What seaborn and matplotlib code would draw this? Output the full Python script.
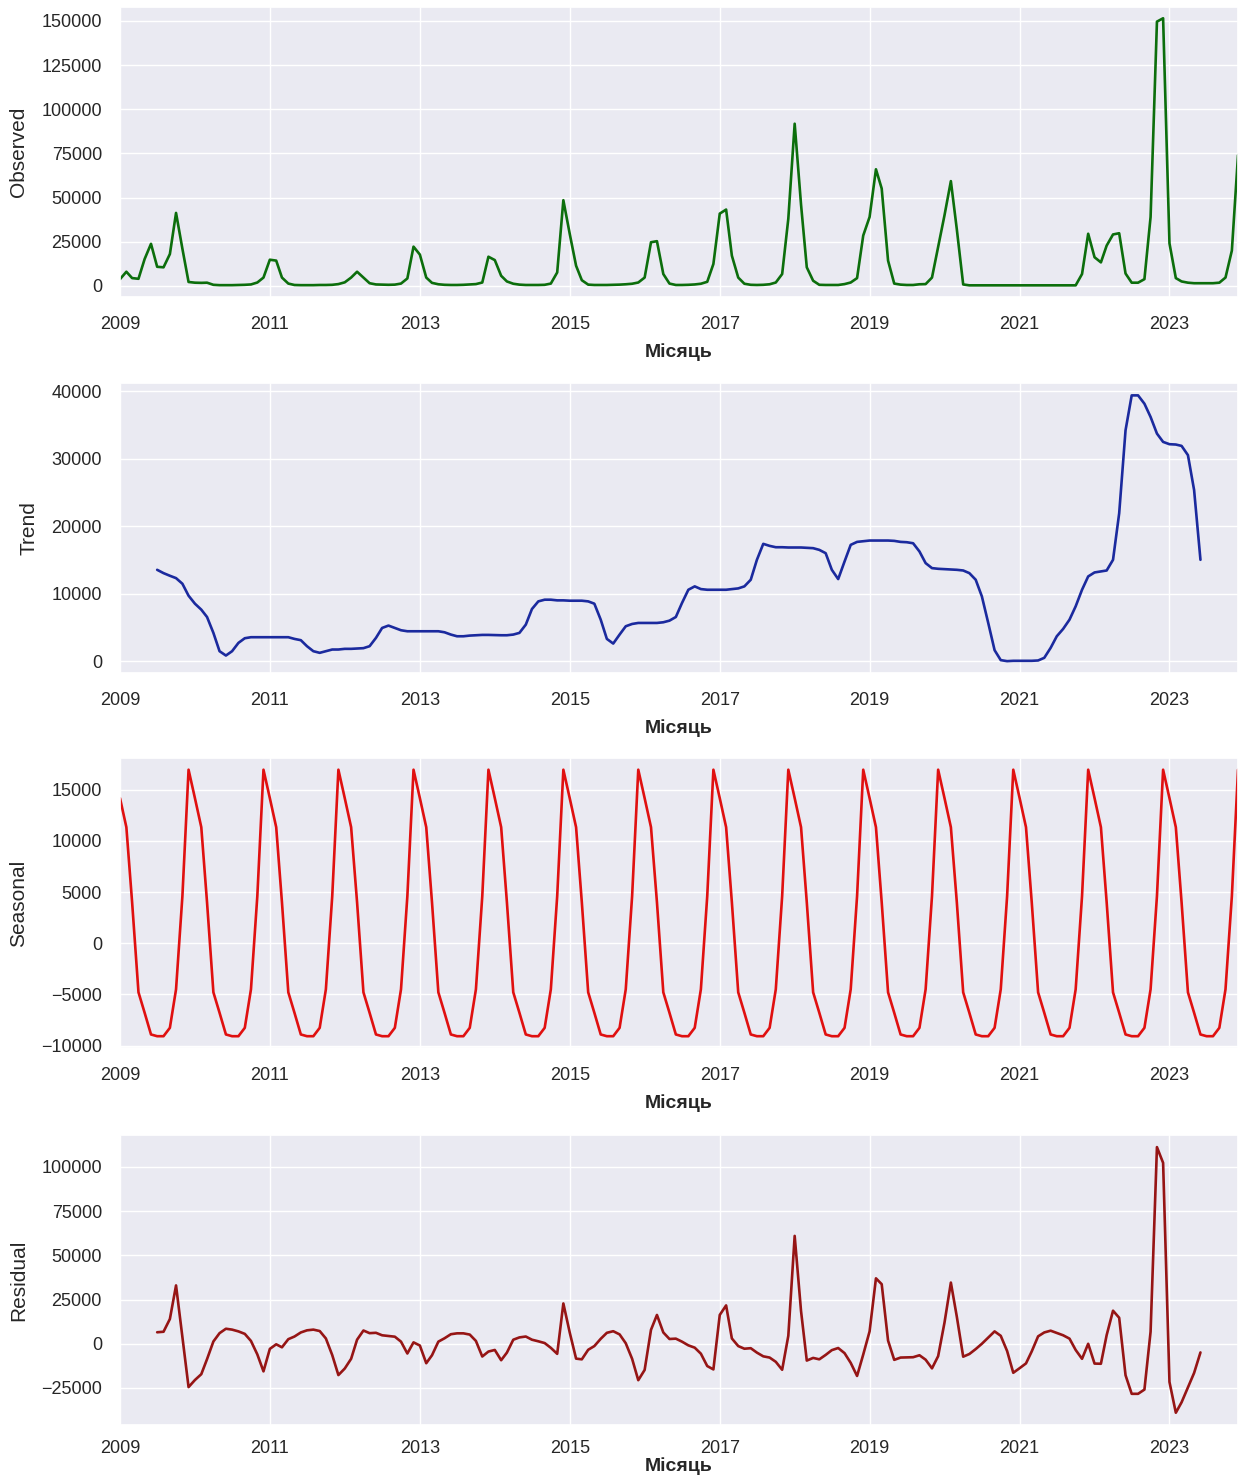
import numpy as np
import pandas as pd
import matplotlib
matplotlib.use('Agg')
import matplotlib.pyplot as plt
import matplotlib.dates as mdates
from matplotlib.ticker import MultipleLocator
import seaborn as sns

# ---------------- data (monthly, 2009-01 .. 2023-12) ----------------
months = pd.date_range('2009-01-01', '2023-12-01', freq='MS')

observed = [
    3800, 8000, 4400, 4000, 15200, 23800, 10800, 10500, 18000, 41300, 21000, 2200,      # 2009
    1800, 1700, 1800, 600, 400, 400, 400, 500, 600, 800, 1900, 4700,                  # 2010
    14800, 14300, 4700, 1300, 500, 400, 400, 400, 500, 500, 600, 1000,                # 2011
    2000, 4700, 8000, 4700, 1500, 800, 700, 600, 700, 1300, 4200, 22200,              # 2012
    17700, 4700, 1700, 900, 600, 500, 500, 600, 800, 1000, 1900, 16500,               # 2013
    14600, 5700, 2500, 1200, 700, 500, 500, 500, 600, 1300, 7600, 48500,              # 2014
    29500, 11400, 3200, 700, 500, 500, 500, 600, 700, 900, 1200, 1900,                # 2015
    4700, 24700, 25300, 6700, 1300, 500, 500, 600, 800, 1200, 2300, 12400,            # 2016
    40900, 43200, 17100, 4700, 1200, 600, 500, 600, 900, 1900, 6700, 38000,           # 2017
    91800, 46000, 10500, 2900, 600, 500, 500, 500, 1000, 1900, 4400, 28500,           # 2018
    39000, 66000, 55100, 14300, 1300, 700, 500, 500, 900, 1000, 4700, 22000,          # 2019
    40000, 59300, 32000, 800, 300, 300, 300, 300, 300, 300, 300, 300,                 # 2020
    300, 300, 300, 300, 300, 300, 300, 300, 300, 300, 6700, 29500,                    # 2021
    16200, 13300, 22800, 29100, 29800, 7000, 1800, 1800, 3800, 39000, 149600, 151500, # 2022
    24100, 4400, 2500, 1800, 1500, 1500, 1500, 1500, 1800, 4700, 20000, 74000,        # 2023
]

# trend: 2009-07 .. 2023-06
trend = [
    13560, 13070, 12680, 12330, 11500, 9730,                                          # 2009 (Jul-Dec)
    8550, 7670, 6580, 4230, 1520, 880, 1520, 2750, 3440, 3590, 3590, 3590,            # 2010
    3590, 3590, 3590, 3590, 3340, 3150, 2260, 1520, 1280, 1520, 1770, 1770,           # 2011
    1870, 1870, 1920, 1970, 2260, 3490, 4960, 5310, 4960, 4620, 4470, 4470,           # 2012
    4470, 4470, 4470, 4470, 4320, 3980, 3730, 3730, 3830, 3880, 3930, 3930,           # 2013
    3900, 3880, 3880, 3980, 4230, 5450, 7760, 8890, 9140, 9140, 9040, 9040,           # 2014
    8990, 8990, 8990, 8890, 8550, 6190, 3340, 2650, 3980, 5210, 5550, 5700,           # 2015
    5700, 5700, 5700, 5800, 6040, 6580, 8650, 10610, 11110, 10710, 10610, 10610,      # 2016
    10610, 10610, 10710, 10810, 11110, 12090, 15040, 17400, 17100, 16900, 16900, 16860,  # 2017
    16860, 16860, 16810, 16760, 16510, 16020, 13560, 12190, 14790, 17250, 17690, 17790,  # 2018
    17890, 17890, 17890, 17890, 17840, 17690, 17640, 17490, 16270, 14550, 13810, 13710,  # 2019
    13660, 13610, 13560, 13460, 13070, 12090, 9630, 5700, 1670, 200, 50, 100,         # 2020
    100, 100, 100, 150, 540, 2010, 3730, 4820, 6190, 8160, 10610, 12580,              # 2021
    13170, 13320, 13460, 15040, 21920, 34200, 39360, 39360, 38130, 36170, 33710, 32480,  # 2022
    32140, 32090, 31890, 30520, 25360, 15040,                                         # 2023 (Jan-Jun)
]

# seasonal pattern (Jan .. Dec), repeated every year
seasonal_pattern = [14180, 11340, 4000, -4800, -6800, -8920, -9090, -9090, -8270, -4510, 4600, 16960]

# residual: 2009-07 .. 2023-06
residual = [
    6500, 6800, 14000, 33000, 4000, -24500,                                           # 2009 (Jul-Dec)
    -20500, -17200, -8700, 1300, 6000, 8500, 8000, 7000, 5600, 1600, -6000, -15600,   # 2010
    -2900, -300, -2000, 2600, 4100, 6400, 7600, 8000, 7200, 3000, -6400, -17700,      # 2011
    -14000, -8500, 2300, 7500, 6000, 6200, 4800, 4400, 4000, 1200, -5500, 800,        # 2012
    -1000, -11000, -6500, 1200, 3100, 5400, 5900, 5900, 5200, 1600, -7200, -4400,     # 2013
    -3500, -9300, -5000, 2300, 3600, 4100, 2300, 1400, 400, -2300, -5700, 22800,      # 2014
    6400, -8400, -8800, -3400, -1300, 2800, 6200, 7100, 5300, 300, -8500, -20600,     # 2015
    -14800, 7900, 16300, 6400, 2700, 2900, 1200, -900, -2200, -5600, -12600, -14500,  # 2016
    16300, 21700, 3000, -1300, -2800, -2500, -5000, -7100, -7800, -10200, -14700, 4500,  # 2017
    61000, 18500, -9500, -8000, -8800, -6300, -3600, -2400, -5300, -10800, -18200, -6100,  # 2018
    7000, 37000, 33700, 1800, -9100, -7800, -7700, -7600, -6500, -9000, -13900, -7000,   # 2019
    12000, 34600, 15300, -7300, -5800, -3000, 0, 3500, 7000, 4500, -4100, -16400,    # 2020
    -13800, -11100, -4300, 4200, 6400, 7400, 6100, 4800, 2900, -3500, -8500, 0,       # 2021
    -11200, -11300, 4900, 18700, 14700, -17800, -28300, -28300, -25900, 6800, 111200, 102300,  # 2022
    -21600, -39000, -33100, -24700, -16500, -4900,                                    # 2023 (Jan-Jun)
]

seasonal = np.tile(seasonal_pattern, len(months) // 12)
mid_months = months[6:6 + len(trend)]

# ---------------- styling ----------------
sns.set_theme(style='darkgrid')
plt.rcParams['font.family'] = ['Liberation Sans', 'DejaVu Sans']
plt.rcParams['text.color'] = '#262626'

fig = plt.figure(figsize=(12.41, 14.82), dpi=100)

left, width = 0.0967, 0.9009
bottoms = [0.7996, 0.5459, 0.2928, 0.0385]
height = 0.1957

panels = [
    (months, observed, '#0c6e0c', 'Observed', (-6300, 157900), 25000),
    (mid_months, trend, '#1b2a9e', 'Trend', (-1700, 41200), 10000),
    (months, seasonal, '#e01010', 'Seasonal', (-10250, 18100), 5000),
    (mid_months, residual, '#961515', 'Residual', (-45900, 118100), 25000),
]

xticks = pd.to_datetime([f'{y}-01-01' for y in range(2009, 2024, 2)])

for i, ((x, y, color, name, ylim, step), b) in enumerate(zip(panels, bottoms)):
    ax = fig.add_axes([left, b, width, height])
    sns.lineplot(x=x, y=y, ax=ax, color=color, linewidth=1.9)
    ax.set_xlim(months[0], months[-1])
    ax.set_ylim(*ylim)
    ax.yaxis.set_major_locator(MultipleLocator(step))
    ax.set_xticks(xticks)
    ax.xaxis.set_major_formatter(mdates.DateFormatter('%Y'))
    ax.tick_params(axis='y', labelsize=13, colors='#262626', length=0, pad=13)
    last = i == len(panels) - 1
    ax.tick_params(axis='x', labelsize=13, colors='#262626', length=0,
                   pad=11 if last else 13.5)
    ax.set_ylabel(name, fontsize=15, labelpad=9.5)
    ax.set_xlabel('Місяць', fontsize=14, fontweight='bold',
                  labelpad=0 if last else 7.5)

fig.savefig('out.png', dpi=100)
